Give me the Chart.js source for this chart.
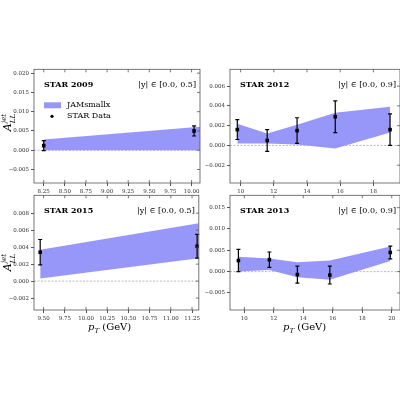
<!DOCTYPE html>
<html>
<head>
<meta charset="utf-8">
<script src="https://cdn.jsdelivr.net/npm/chart.js@4/dist/chart.umd.min.js"></script>
<style>
body{margin:0;background:#fff;width:400px;height:400px;position:relative;overflow:hidden;font-family:"DejaVu Serif",serif}
.p{position:absolute}
.lab{position:absolute;font-family:"DejaVu Serif",serif;color:#000;white-space:nowrap}
.yl{transform:rotate(-90deg);transform-origin:center;width:30px;height:16px;font-size:11px;font-style:italic;text-align:center}
.yl span{position:relative;font-size:7px}
</style>
</head>
<body>
<div class="p" style="left:0;top:64px;width:202px;height:133px"><canvas id="c1"></canvas></div>
<div class="p" style="left:196px;top:64px;width:206px;height:133px"><canvas id="c2"></canvas></div>
<div class="p" style="left:0;top:190px;width:202px;height:134px"><canvas id="c3"></canvas></div>
<div class="p" style="left:196px;top:190px;width:206px;height:134px"><canvas id="c4"></canvas></div>
<div class="lab yl" style="left:-6px;top:110px">A<span style="top:4px">LL</span><span style="top:-5px;left:-9px">jet</span></div>
<div class="lab yl" style="left:-6px;top:250px">A<span style="top:4px">LL</span><span style="top:-5px;left:-9px">jet</span></div>
<div class="lab" style="left:88px;top:321px;font-size:10px"><i>p<sub style="font-size:7px">T</sub></i> (GeV)</div>
<div class="lab" style="left:283px;top:321px;font-size:10px"><i>p<sub style="font-size:7px">T</sub></i> (GeV)</div>
<script>
// STAR 2009
const x2009 = [8.25, 10.03];
const y2009 = [0.0012, 0.0050];
const e2009 = [0.0013, 0.0013];
const bx2009 = [8.25, 10.10];
const lo2009 = [0.0, 0.0];
const hi2009 = [0.0028, 0.0061];
const t2009 = [8.25, 8.5, 8.75, 9.0, 9.25, 9.5, 9.75, 10.0];
const yt2009 = [-0.005, 0.0, 0.005, 0.010, 0.015, 0.020];

// STAR 2012
const x2012 = [9.8, 11.6, 13.4, 15.7, 19.0];
const y2012 = [0.0016, 0.0005, 0.0015, 0.0029, 0.0016];
const e2012 = [0.0010, 0.0011, 0.0013, 0.0016, 0.0016];
const lo2012 = [0.0002, 0.0002, 0.0001, -0.0003, 0.0013];
const hi2012 = [0.0022, 0.0012, 0.0021, 0.0033, 0.0039];
const t2012 = [10, 12, 14, 16, 18];
const yt2012 = [-0.002, 0.0, 0.002, 0.004, 0.006];

// STAR 2015
const x2015 = [9.46, 11.31];
const y2015 = [0.0034, 0.0041];
const e2015 = [0.0015, 0.0014];
const bx2015 = [9.46, 11.33];
const lo2015 = [0.0003, 0.0027];
const hi2015 = [0.0037, 0.0068];
const t2015 = [9.5, 9.75, 10.0, 10.25, 10.5, 10.75, 11.0, 11.25];
const yt2015 = [-0.002, 0.0, 0.002, 0.004, 0.006, 0.008];

// STAR 2013
const x2013 = [9.6, 11.7, 13.6, 15.8, 19.9];
const y2013 = [0.0026, 0.0028, -0.0007, -0.0008, 0.0045];
const e2013 = [0.0026, 0.0018, 0.0020, 0.0021, 0.0015];
const lo2013 = [0.0, 0.0004, -0.0013, -0.0019, 0.0025];
const hi2013 = [0.0035, 0.0031, 0.0022, 0.0026, 0.0059];
const t2013 = [10, 12, 14, 16, 18, 20];
const yt2013 = [-0.005, 0.0, 0.005, 0.010, 0.015];

const band = 'rgba(140,140,250,0.9)';
const serif = '"DejaVu Serif", serif';

function fmt(v, d) {
  let s = Math.abs(v).toFixed(d);
  return (v < -1e-12 ? '\u2212' : '') + s;
}

const extras = {
  id: 'extras',
  beforeDatasetsDraw(chart) {
    const {ctx, chartArea: a, scales: {x, y}} = chart;
    ctx.save();
    ctx.strokeStyle = '#888';
    ctx.lineWidth = 0.6;
    ctx.setLineDash([2, 1.5]);
    ctx.beginPath();
    ctx.moveTo(a.left, y.getPixelForValue(0));
    ctx.lineTo(a.right, y.getPixelForValue(0));
    ctx.stroke();
    ctx.restore();
  },
  afterDatasetsDraw(chart) {
    const o = chart.options.plugins.extras;
    const {ctx, chartArea: a, scales: {x, y}} = chart;
    ctx.save();
    ctx.strokeStyle = '#000';
    ctx.fillStyle = '#000';
    ctx.lineWidth = 1.2;
    o.px.forEach((v, i) => {
      const cx = x.getPixelForValue(v);
      const t = y.getPixelForValue(o.py[i] + o.pe[i]);
      const b = y.getPixelForValue(o.py[i] - o.pe[i]);
      ctx.beginPath();
      ctx.moveTo(cx, t); ctx.lineTo(cx, b);
      ctx.moveTo(cx - 2, t); ctx.lineTo(cx + 2, t);
      ctx.moveTo(cx - 2, b); ctx.lineTo(cx + 2, b);
      ctx.stroke();
      ctx.fillRect(cx - 1.8, y.getPixelForValue(o.py[i]) - 1.8, 3.6, 3.6);
    });
    // frame
    ctx.strokeStyle = '#555';
    ctx.lineWidth = 0.8;
    ctx.strokeRect(a.left, a.top, a.right - a.left, a.bottom - a.top);
    // inner ticks
    ctx.beginPath();
    x.ticks.forEach(t => {
      const p = x.getPixelForValue(t.value);
      ctx.moveTo(p, a.top); ctx.lineTo(p, a.top + 3);
      ctx.moveTo(p, a.bottom); ctx.lineTo(p, a.bottom - 3);
    });
    y.ticks.forEach(t => {
      const p = y.getPixelForValue(t.value);
      ctx.moveTo(a.right, p); ctx.lineTo(a.right - 3, p);
    });
    ctx.stroke();
    // labels
    ctx.fillStyle = '#000';
    ctx.font = 'bold 8px ' + serif;
    ctx.textBaseline = 'middle';
    ctx.textAlign = 'left';
    ctx.fillText(o.title, a.left + 10, a.top + 16);
    ctx.font = '8px ' + serif;
    ctx.textAlign = 'right';
    ctx.fillText(o.range, a.right - 4, a.top + 16);
    if (o.legend) {
      ctx.textAlign = 'left';
      ctx.fillStyle = band;
      ctx.fillRect(a.left + 10, a.top + 33, 17, 6);
      ctx.fillStyle = '#000';
      ctx.fillText('JAMsmallx', a.left + 33, a.top + 36);
      ctx.beginPath();
      ctx.arc(a.left + 18, a.top + 47, 1.6, 0, Math.PI * 2);
      ctx.fill();
      ctx.fillText('STAR Data', a.left + 33, a.top + 47);
    }
    ctx.restore();
  }
};

function make(id, o) {
  new Chart(document.getElementById(id), {
    type: 'line',
    data: {
      datasets: [
        {data: o.bx.map((v, i) => ({x: v, y: o.lo[i]})), borderWidth: 0, pointRadius: 0, fill: false},
        {data: o.bx.map((v, i) => ({x: v, y: o.hi[i]})), borderWidth: 0, pointRadius: 0, fill: '-1', backgroundColor: band}
      ]
    },
    options: {
      responsive: true,
      maintainAspectRatio: false,
      animation: false,
      layout: {padding: {top: 4, right: 2}},
      plugins: {
        legend: {display: false},
        tooltip: {enabled: false},
        extras: {px: o.px, py: o.py, pe: o.pe, title: o.title, range: o.range, legend: o.legend}
      },
      scales: {
        x: {
          type: 'linear', min: o.xmin, max: o.xmax,
          afterBuildTicks: ax => { ax.ticks = o.xt.map(v => ({value: v})); },
          afterFit: ax => { ax.height = 14; },
          grid: {drawOnChartArea: false, tickLength: 3, color: '#555'},
          border: {display: false},
          ticks: {font: {size: 5.5, family: serif}, color: '#333', padding: 2, maxRotation: 0,
            callback: v => o.xd === 0 ? String(v) : v.toFixed(o.xd)}
        },
        y: {
          type: 'linear', min: o.ymin, max: o.ymax,
          afterBuildTicks: ax => { ax.ticks = o.yt.map(v => ({value: v})); },
          afterFit: ax => { ax.width = o.yw; },
          grid: {drawOnChartArea: false, tickLength: 3, color: '#555'},
          border: {display: false},
          ticks: {font: {size: 5.5, family: serif}, color: '#333', padding: 2,
            callback: v => fmt(v, 3)}
        }
      }
    },
    plugins: [extras]
  });
}

make('c1', {bx: bx2009, lo: lo2009, hi: hi2009, px: x2009, py: y2009, pe: e2009,
  xmin: 8.135, xmax: 10.10, ymin: -0.0085, ymax: 0.021, xt: t2009, yt: yt2009, xd: 2, yw: 34,
  title: 'STAR 2009', range: '|y| \u2208 [0.0, 0.5]', legend: true});
make('c2', {bx: x2012, lo: lo2012, hi: hi2012, px: x2012, py: y2012, pe: e2012,
  xmin: 9.36, xmax: 19.6, ymin: -0.0038, ymax: 0.0077, xt: t2012, yt: yt2012, xd: 0, yw: 34,
  title: 'STAR 2012', range: '|y| \u2208 [0.0, 0.9]', legend: false});
make('c3', {bx: bx2015, lo: lo2015, hi: hi2015, px: x2015, py: y2015, pe: e2015,
  xmin: 9.387, xmax: 11.33, ymin: -0.0034, ymax: 0.0101, xt: t2015, yt: yt2015, xd: 2, yw: 34,
  title: 'STAR 2015', range: '|y| \u2208 [0.0, 0.5]', legend: false});
make('c4', {bx: x2013, lo: lo2013, hi: hi2013, px: x2013, py: y2013, pe: e2013,
  xmin: 9.03, xmax: 20.56, ymin: -0.009, ymax: 0.0179, xt: t2013, yt: yt2013, xd: 0, yw: 34,
  title: 'STAR 2013', range: '|y| \u2208 [0.0, 0.9]', legend: false});
</script>
</body>
</html>
